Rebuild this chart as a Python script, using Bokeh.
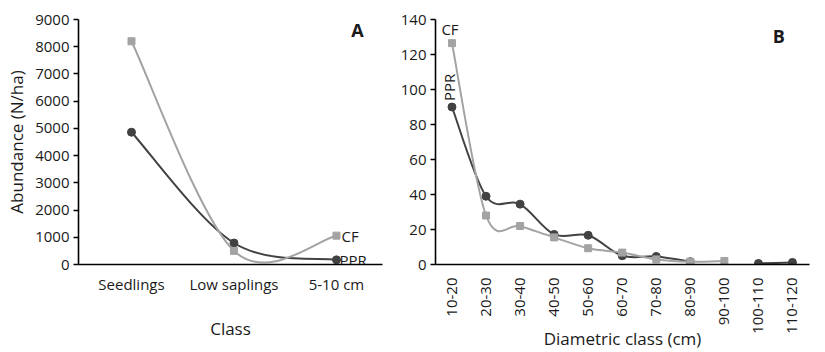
import math
from bokeh.plotting import figure
from bokeh.layouts import row
from bokeh.models import Range1d, FixedTicker, Label, ColumnDataSource
from bokeh.embed import file_html
from bokeh.resources import INLINE

# ---------------- data ----------------
classes_a = ["Seedlings", "Low saplings", "5-10 cm"]
cf_a = [8200, 500, 1060]
ppr_a = [4860, 790, 170]
yticks_a = [0, 1000, 2000, 3000, 4000, 5000, 6000, 7000, 8000, 9000]

classes_b = ["10-20", "20-30", "30-40", "40-50", "50-60", "60-70",
             "70-80", "80-90", "90-100", "100-110", "110-120"]
cf_b = [126.5, 28, 22, 15.5, 9.3, 6.8, 2.9, 1.6, 2.0, None, None]
ppr_b = [90, 39, 34.5, 17.2, 16.7, 5.0, 4.6, 1.6, None, 0.6, 1.2]
yticks_b = [0, 20, 40, 60, 80, 100, 120, 140]

CF_COLOR = "#a3a3a3"
PPR_COLOR = "#424242"
TXT = "#1a1a1a"
FONT = "Open Sans"


def runs(vals):
    out, cur = [], []
    for i, v in enumerate(vals):
        if v is None:
            if cur:
                out.append(cur)
            cur = []
        else:
            cur.append(i)
    if cur:
        out.append(cur)
    return out


def smooth(xs, ys):
    """Bezier segments (Catmull-Rom style, like a spreadsheet 'smoothed line')."""
    n = len(xs)
    d = dict(x0=[], y0=[], x1=[], y1=[], cx0=[], cy0=[], cx1=[], cy1=[])

    def pt(k):
        k = max(0, min(n - 1, k))
        return xs[k], ys[k]

    for i in range(n - 1):
        x0, y0 = pt(i)
        x1, y1 = pt(i + 1)
        xm, ym = pt(i - 1)
        xp, yp = pt(i + 2)
        d["x0"].append(x0); d["y0"].append(y0)
        d["x1"].append(x1); d["y1"].append(y1)
        d["cx0"].append(x0 + (x1 - xm) / 6); d["cy0"].append(y0 + (y1 - ym) / 6)
        d["cx1"].append(x1 - (xp - x0) / 6); d["cy1"].append(y1 - (yp - y0) / 6)
    return d


def draw_series(p, vals, color, marker, size):
    for r in runs(vals):
        xs = r
        ys = [vals[i] for i in r]
        if len(xs) > 1:
            p.bezier(source=ColumnDataSource(smooth(xs, ys)), x0="x0", y0="y0", x1="x1", y1="y1",
                     cx0="cx0", cy0="cy0", cx1="cx1", cy1="cy1",
                     line_color=color, line_width=2)
        p.scatter(xs, ys, marker=marker, size=size, fill_color=color, line_color=color)


def style(p):
    p.grid.visible = False
    p.outline_line_color = None
    p.background_fill_color = "white"
    p.border_fill_color = "white"
    for ax in (p.xaxis[0], p.yaxis[0]):
        ax.axis_line_color = "black"
        ax.axis_line_width = 1.6
        ax.minor_tick_line_color = None
        ax.major_label_text_font = FONT
        ax.major_label_text_font_size = "15px"
        ax.major_label_text_color = TXT
        ax.axis_label_text_font = FONT
        ax.axis_label_text_font_size = "17px"
        ax.axis_label_text_font_style = "normal"
        ax.axis_label_text_color = TXT
    p.xaxis.major_tick_line_color = None
    p.yaxis.major_tick_out = 5
    p.yaxis.major_tick_in = 0
    p.yaxis.major_tick_line_width = 1.4
    p.yaxis.major_label_standoff = 4


# ---------------- panel A ----------------
pa = figure(width=397, height=352, output_backend="svg", toolbar_location=None,
            x_range=Range1d(-0.517, 2.449), y_range=Range1d(0, 9000),
            min_border_left=78, min_border_right=15, min_border_top=19, min_border_bottom=88)
style(pa)
pa.xaxis.ticker = FixedTicker(ticks=list(range(len(classes_a))))
pa.xaxis.major_label_overrides = {i: c for i, c in enumerate(classes_a)}
pa.xaxis.major_label_standoff = 3
pa.yaxis.ticker = FixedTicker(ticks=yticks_a)
pa.xaxis.axis_label = "Class"
pa.xaxis.axis_label_standoff = 20
pa.yaxis.axis_label = "Abundance (N/ha)"
pa.yaxis.axis_label_standoff = 4

draw_series(pa, ppr_a, PPR_COLOR, "circle", 8)
draw_series(pa, cf_a, CF_COLOR, "square", 7)

pa.add_layout(Label(x=len(classes_a) - 1, y=cf_a[-1], text="CF", x_offset=5,
                    text_baseline="middle", text_font=FONT, text_font_size="15px", text_color=TXT))
pa.add_layout(Label(x=len(classes_a) - 1, y=ppr_a[-1], text="PPR", x_offset=3,
                    text_baseline="middle", text_font=FONT, text_font_size="15px", text_color=TXT))
pa.add_layout(Label(x=2.205, y=8600, text="A", text_align="center", text_baseline="middle",
                    text_font=FONT, text_font_size="18px", text_font_style="bold", text_color=TXT))

# ---------------- panel B ----------------
pb = figure(width=428, height=352, output_backend="svg", toolbar_location=None,
            x_range=Range1d(-0.484, 10.5), y_range=Range1d(0, 140),
            min_border_left=33, min_border_right=16, min_border_top=12, min_border_bottom=88)
style(pb)
pb.xaxis.ticker = FixedTicker(ticks=list(range(len(classes_b))))
pb.xaxis.major_label_overrides = {i: c for i, c in enumerate(classes_b)}
pb.xaxis.major_label_orientation = math.pi / 2
pb.xaxis.major_label_standoff = 7
pb.yaxis.ticker = FixedTicker(ticks=yticks_b)
pb.xaxis.axis_label = "Diametric class (cm)"
pb.xaxis.axis_label_standoff = -10

draw_series(pb, ppr_b, PPR_COLOR, "circle", 8)
draw_series(pb, cf_b, CF_COLOR, "square", 7)

pb.add_layout(Label(x=0, y=cf_b[0], text="CF", y_offset=14, x_offset=-2, text_align="center",
                    text_baseline="middle", text_font=FONT, text_font_size="15px", text_color=TXT))
pb.add_layout(Label(x=0, y=ppr_b[0], text="PPR", y_offset=6, x_offset=-3, angle=math.pi / 2,
                    text_align="left", text_baseline="middle", text_font=FONT,
                    text_font_size="15px", text_color=TXT))
pb.add_layout(Label(x=9.6, y=130.5, text="B", text_align="center", text_baseline="middle",
                    text_font=FONT, text_font_size="18px", text_font_style="bold", text_color=TXT))

layout = row(pa, pb)
open("out.html", "w").write(file_html(layout, INLINE))
